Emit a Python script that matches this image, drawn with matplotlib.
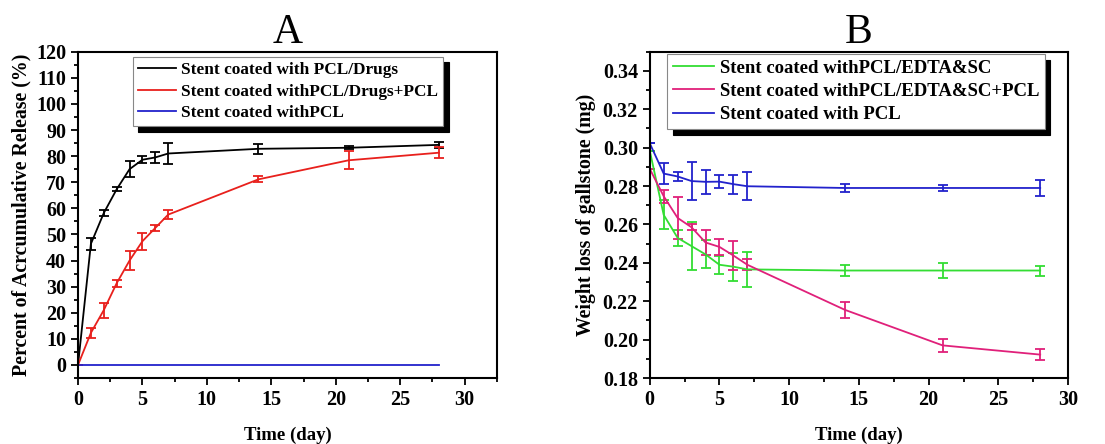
import matplotlib
matplotlib.use("Agg")
import matplotlib.pyplot as plt
from matplotlib.ticker import MultipleLocator
from matplotlib.lines import Line2D

plt.rcParams['font.family'] = ['Liberation Serif', 'DejaVu Serif']
plt.rcParams['font.weight'] = 'bold'

# Panel A: cumulative release (%)
days = [0, 1, 2, 3, 4, 5, 6, 7, 14, 21, 28]
drugs = [0, 46.4, 58.2, 67.3, 75.0, 78.6, 79.5, 81.0, 82.8, 83.2, 84.3]
drugs_err = [0, 2.3, 1.3, 0.8, 3.0, 1.3, 2.2, 4.2, 2.0, 0.5, 1.2]
drugs_pcl = [0, 12.3, 21.0, 31.3, 40.0, 47.4, 52.5, 57.6, 71.1, 78.4, 81.3]
drugs_pcl_err = [0, 2.0, 2.9, 1.4, 3.6, 3.2, 1.3, 1.6, 1.2, 3.4, 2.2]
pcl_only = [0, 0, 0, 0, 0, 0, 0, 0, 0, 0, 0]

# Panel B: weight loss of gallstone (mg)
edta = [0.2985, 0.265, 0.253, 0.2487, 0.2444, 0.239, 0.238, 0.2366, 0.236, 0.236, 0.236]
edta_err = [0, 0.0076, 0.004, 0.0125, 0.0073, 0.0048, 0.0073, 0.009, 0.003, 0.004, 0.0026]
edta_pcl = [0.289, 0.2747, 0.2634, 0.2585, 0.2506, 0.2483, 0.2438, 0.239, 0.2155, 0.197, 0.1922]
edta_pcl_err = [0, 0.0035, 0.011, 0.0016, 0.0067, 0.0043, 0.0076, 0.0028, 0.0043, 0.0032, 0.0028]
pcl = [0.3023, 0.2865, 0.285, 0.2826, 0.2822, 0.2823, 0.281, 0.2799, 0.279, 0.279, 0.279]
pcl_err = [0, 0.0054, 0.0024, 0.0098, 0.0062, 0.0032, 0.005, 0.0073, 0.002, 0.0016, 0.004]

labels_a = ['Stent coated with PCL/Drugs', 'Stent coated withPCL/Drugs+PCL', 'Stent coated withPCL']
labels_b = ['Stent coated withPCL/EDTA&SC', 'Stent coated withPCL/EDTA&SC+PCL', 'Stent coated with PCL']
colors_a = ['black', '#e8201c', '#2222cc']
colors_b = ['#33dd33', '#e0207a', '#2222cc']

fig = plt.figure(figsize=(11.05, 4.44), dpi=100)
axA = fig.add_axes([0.0706, 0.1486, 0.379, 0.735])
axB = fig.add_axes([0.588, 0.1486, 0.3786, 0.735])

def style(ax):
    for s in ax.spines.values():
        s.set_linewidth(1.5)
    ax.tick_params(which='both', direction='out', top=False, right=False, width=1.3, labelsize=14.5)
    ax.tick_params(which='major', length=5)
    ax.tick_params(which='minor', length=3)
    for t in ax.get_xticklabels() + ax.get_yticklabels():
        t.set_fontweight('bold')

def draw(ax, ys, errs, color):
    ax.errorbar(days, ys, yerr=errs, color=color, lw=1.3, capsize=3.5, elinewidth=1.3,
                capthick=1.3)

def legend(ax, colors, labels, anchor, size):
    handles = [Line2D([], [], color=c, lw=1.3) for c in colors]
    lg = ax.legend(handles, labels, loc='upper left', bbox_to_anchor=anchor, borderaxespad=0,
                   fancybox=False, edgecolor='#888888', framealpha=1, handlelength=2.2,
                   handletextpad=0.3, labelspacing=0.33, borderpad=0.3,
                   shadow={'ox': 4, 'oy': -4, 'facecolor': 'black', 'edgecolor': 'black', 'alpha': 1},
                   prop={'weight': 'bold', 'size': size})
    lg.get_frame().set_linewidth(0.8)

# A
draw(axA, drugs, drugs_err, colors_a[0])
draw(axA, drugs_pcl, drugs_pcl_err, colors_a[1])
axA.plot(days, pcl_only, color=colors_a[2], lw=1.3)
axA.set_xlim(0, 32.5)
axA.set_ylim(-5, 120)
axA.xaxis.set_major_locator(MultipleLocator(5))
axA.xaxis.set_minor_locator(MultipleLocator(2.5))
axA.yaxis.set_major_locator(MultipleLocator(10))
axA.yaxis.set_minor_locator(MultipleLocator(5))
axA.set_xlabel('Time (day)', fontsize=13.5, fontweight='bold', labelpad=12)
axA.set_ylabel('Percent of Acrcumulative Release (%)', fontsize=14.3, fontweight='bold', labelpad=3)
axA.set_title('A', fontsize=30, fontweight='normal', pad=3)
style(axA)
legend(axA, colors_a, labels_a, (0.131, 0.985), 12.4)

# B
draw(axB, edta, edta_err, colors_b[0])
draw(axB, edta_pcl, edta_pcl_err, colors_b[1])
draw(axB, pcl, pcl_err, colors_b[2])
axB.set_xlim(0, 30)
axB.set_ylim(0.18, 0.35)
axB.xaxis.set_major_locator(MultipleLocator(5))
axB.xaxis.set_minor_locator(MultipleLocator(2.5))
axB.yaxis.set_major_locator(MultipleLocator(0.02))
axB.yaxis.set_minor_locator(MultipleLocator(0.01))
axB.yaxis.set_major_formatter(plt.FormatStrFormatter('%.2f'))
axB.set_xlabel('Time (day)', fontsize=13.5, fontweight='bold', labelpad=12)
axB.set_ylabel('Weight loss of gallstone (mg)', fontsize=14.2, fontweight='bold', labelpad=5)
axB.set_title('B', fontsize=30, fontweight='normal', pad=3)
style(axB)
legend(axB, colors_b, labels_b, (0.042, 0.993), 13.5)

fig.savefig('out.png', dpi=100)
